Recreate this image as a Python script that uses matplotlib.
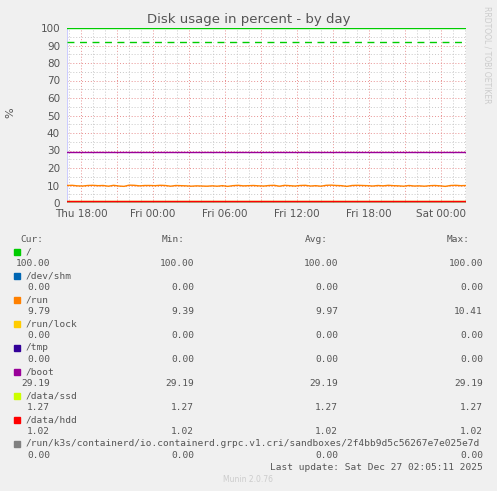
import matplotlib.pyplot as plt
import matplotlib.patches as mpatches
import numpy as np

# hours relative to Thu 18:00
x_start, x_end = -1.17, 32.08
tick_hours = list(range(0, 33, 3))
tick_labels = ['Thu 18:00', '', 'Fri 00:00', '', 'Fri 06:00', '', 'Fri 12:00', '',
               'Fri 18:00', '', 'Sat 00:00']

run_vals = [10.0, 10.1, 9.8, 9.7, 10.0, 10.1, 9.9, 10.0, 9.6, 10.1, 9.7, 9.5, 10.2, 10.1, 9.8,
            10.0, 10.0, 9.9, 10.1, 10.0, 9.6, 10.0, 9.9, 9.8, 9.6, 9.8, 9.7, 9.6, 9.8, 9.6,
            9.9, 9.5, 9.9, 10.1, 9.8, 9.9, 10.0, 9.8, 9.7, 10.0, 10.1, 9.6, 10.1, 9.9, 9.7,
            10.0, 10.1, 9.7, 9.9, 9.6, 10.1, 10.2, 10.0, 9.9, 9.5, 10.0, 10.1, 10.0, 9.9, 9.7,
            10.0, 9.8, 10.1, 9.9, 9.8, 9.6, 10.0, 9.7, 9.8, 9.6, 9.9, 10.0, 9.8, 9.5, 10.0,
            10.1, 9.9, 10.0]
run_x = np.linspace(x_start, x_end, len(run_vals))

legend_names = ['/', '/dev/shm', '/run', '/run/lock', '/tmp', '/boot', '/data/ssd', '/data/hdd',
                '/run/k3s/containerd/io.containerd.grpc.v1.cri/sandboxes/2f4bb9d5c56267e7e025e7d']
legend_colors = ['#00cc00', '#0066b3', '#ff8000', '#ffcc00', '#330099', '#990099', '#ccff00',
                 '#ff0000', '#808080']
cur = ['100.00', '0.00', '9.79', '0.00', '0.00', '29.19', '1.27', '1.02', '0.00']
mins = ['100.00', '0.00', '9.39', '0.00', '0.00', '29.19', '1.27', '1.02', '0.00']
avgs = ['100.00', '0.00', '9.97', '0.00', '0.00', '29.19', '1.27', '1.02', '0.00']
maxs = ['100.00', '0.00', '10.41', '0.00', '0.00', '29.19', '1.27', '1.02', '0.00']
const_vals = [100.0, 0.0, None, 0.0, 0.0, 29.19, 1.27, 1.02, 0.0]
warning = 92

W, H = 497, 491
fig = plt.figure(figsize=(W / 100, H / 100), dpi=100, facecolor='#f0f0f0')
ax = fig.add_axes([67 / W, 1 - 203 / H, 399 / W, 175 / H], facecolor='white')

for i in [8, 1, 3, 4, 0, 5, 6]:
    ax.plot([x_start, x_end], [const_vals[i]] * 2, color=legend_colors[i], lw=1, zorder=3)
ax.plot(run_x, run_vals, color=legend_colors[2], lw=1, zorder=3)
ax.plot([x_start, x_end], [const_vals[7]] * 2, color=legend_colors[7], lw=1, zorder=4)
ax.axhline(warning, color='#00cc00', lw=1, ls=(0, (5, 4)), zorder=3)

ax.set_xlim(x_start, x_end)
ax.set_ylim(0, 100)
ax.set_xticks(tick_hours)
ax.set_xticklabels(tick_labels)
ax.set_xticks(np.arange(-1, 33, 1), minor=True)
ax.set_yticks(range(0, 101, 10))
ax.set_yticks(range(0, 101, 5), minor=True)
ax.grid(which='minor', color='#c8c8c8', ls=(0, (1, 2)), lw=0.7)
ax.grid(which='major', color='#e89090', ls=(0, (1, 2)), lw=0.7)
ax.tick_params(which='both', length=0, labelsize=7.5, colors='#555555')
ax.tick_params(axis='x', pad=4)
ax.tick_params(axis='y', pad=5)
for s in ax.spines.values():
    s.set_visible(False)
ax.axvline(x_start, color='#ccccff', lw=0.8, zorder=2)
ax.axhline(0, color='#ccccff', lw=0.8, zorder=2)
fig.text(10 / W, 1 - 113 / H, '%', rotation=90, ha='center', va='center',
         fontsize=8, color='#555555')
fig.text(0.5, 1 - 19 / H, 'Disk usage in percent - by day', ha='center', va='center',
         fontsize=9.5, color='#555555')
fig.text(487 / W, 1 - 55 / H, 'RRDTOOL / TOBI OETIKER', rotation=270, ha='center', va='center',
         fontsize=5.5, color='#cccccc')

mono = dict(family='DejaVu Sans Mono', fontsize=6.8, color='#555555', va='center')
def ty(y):
    return 1 - y / H
fig.text(20 / W, ty(240), 'Cur:', **mono)
fig.text(185 / W, ty(240), 'Min:', ha='right', **mono)
fig.text(328 / W, ty(240), 'Avg:', ha='right', **mono)
fig.text(470 / W, ty(240), 'Max:', ha='right', **mono)
y = 252
for i, name in enumerate(legend_names):
    fig.patches.append(mpatches.Rectangle((14 / W, ty(y + 3)), 6 / W, 6 / H,
                                          color=legend_colors[i], transform=fig.transFigure))
    fig.text(26 / W, ty(y), name, **mono)
    y += 12
    fig.text(50 / W, ty(y), cur[i], ha='right', **mono)
    fig.text(194 / W, ty(y), mins[i], ha='right', **mono)
    fig.text(338 / W, ty(y), avgs[i], ha='right', **mono)
    fig.text(483 / W, ty(y), maxs[i], ha='right', **mono)
    y += 12
fig.text(483 / W, ty(468), 'Last update: Sat Dec 27 02:05:11 2025', ha='right', **mono)
fig.text(248 / W, ty(480), 'Munin 2.0.76', ha='center', va='center', fontsize=5.5, color='#cccccc')

fig.savefig('out.png', dpi=100, facecolor=fig.get_facecolor())
